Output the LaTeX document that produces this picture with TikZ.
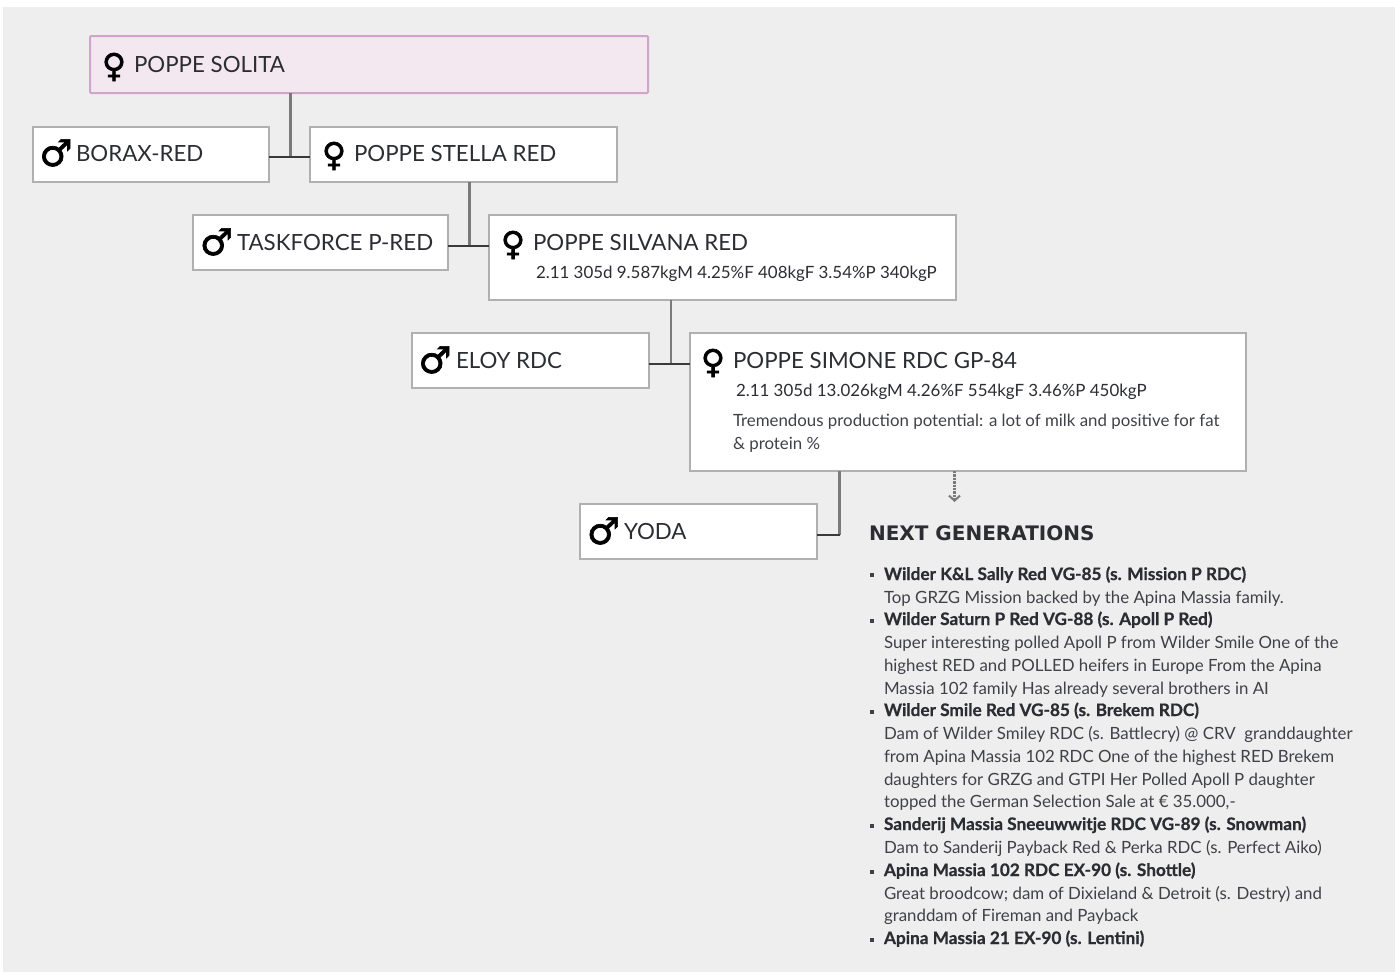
\documentclass[tikz,border=0pt]{standalone}
\usepackage{fontspec}
\usetikzlibrary{arrows.meta}
\setmainfont{Lato}
\newfontfamily\symfont[FakeBold=1.8]{DejaVu Sans}
\newfontfamily\headfont{DejaVu Sans}
\newfontfamily\leadfont[FakeBold=0.7]{Lato Bold}
\definecolor{bgc}{HTML}{EEEEEE}
\definecolor{edgec}{HTML}{B0B0B0}
\definecolor{pinkf}{HTML}{F3E7F0}
\definecolor{pinke}{HTML}{CFA5C9}
\definecolor{vlc}{HTML}{7A7A7A}
\definecolor{hlc}{HTML}{3A3A3A}
\definecolor{txtc}{HTML}{2B2D33}
\definecolor{bodyc}{HTML}{3F4147}
\tikzset{
  x=1pt,y=-1pt,
  every node/.style={inner sep=0pt,outer sep=0pt},
  pedbox/.style={draw=edgec,fill=white,line width=1.6pt,anchor=north west},
  rootbox/.style={draw=pinke,fill=pinkf,line width=2pt,anchor=north west,rounded corners=1pt},
  pedname/.style={anchor=base west,text=txtc,font=\fontsize{22.3}{24}\selectfont},
  stats/.style={anchor=base west,text=txtc,font=\fontsize{16.9}{20}\selectfont},
  body/.style={anchor=base west,text=bodyc,font=\fontsize{16.85}{20}\selectfont},
  lead/.style={anchor=base west,text=txtc,font=\fontsize{17.2}{20}\leadfont\selectfont},
  femsym/.style={anchor=base,text=black,font=\fontsize{33}{33}\symfont\selectfont},
  malesym/.style={anchor=base,text=black,font=\fontsize{37}{37}\symfont\selectfont},
  bull/.style={fill=bodyc,minimum width=3.4pt,minimum height=3.4pt,anchor=center},
  vline/.style={draw=vlc,line width=2.6pt},
  hline/.style={draw=hlc,line width=1.3pt},
}
\begin{document}
\begin{tikzpicture}
\useasboundingbox (0,0) rectangle (1395,972);
\fill[white] (0,0) rectangle (1395,972);
\fill[bgc] (3,7) rectangle (1395,972);
% boxes
\node[rootbox,minimum width=558pt,minimum height=57pt] (solita) at (90,36) {};
\node[pedbox,minimum width=236pt,minimum height=55pt] (borax) at (33,127) {};
\node[pedbox,minimum width=307pt,minimum height=55pt] (stella) at (310,127) {};
\node[pedbox,minimum width=255pt,minimum height=55pt] (taskforce) at (193,215) {};
\node[pedbox,minimum width=467pt,minimum height=85pt] (silvana) at (489,215) {};
\node[pedbox,minimum width=237pt,minimum height=55pt] (eloy) at (412,333) {};
\node[pedbox,minimum width=556pt,minimum height=138pt] (simone) at (690,333) {};
\node[pedbox,minimum width=237pt,minimum height=55pt] (yoda) at (580,504) {};
% junctions
\coordinate (j1) at (290.5,157);
\coordinate (j2) at (469.5,246);
\coordinate (j3) at (671,364);
\coordinate (j4) at (839.5,535);
\coordinate (arrowend) at (954.5,502);
\draw[vline] (solita.south -| j1) -- (j1);
\draw[hline] (borax.east |- j1) -- (stella.west |- j1);
\draw[vline] (stella.south -| j2) -- (j2);
\draw[hline] (taskforce.east |- j2) -- (silvana.west |- j2);
\draw[vline] (silvana.south -| j3) -- (j3);
\draw[hline] (eloy.east |- j3) -- (simone.west |- j3);
\draw[vline] (simone.south -| j4) -- (j4);
\draw[hline] (yoda.east |- j4) -- (j4);
\draw[draw=vlc,line width=2.6pt,dash pattern=on 2.4pt off 1pt,-{Straight Barb[length=5pt,width=11pt,line width=2pt]}] (simone.south -| arrowend) -- (arrowend);
% symbols
\node[femsym] (s1) at (114,77) {♀};
\node[femsym] (s2) at (334,166) {♀};
\node[femsym] (s3) at (513,255) {♀};
\node[femsym] (s4) at (713,373) {♀};
\node[malesym] (s5) at (56,166) {♂};
\node[malesym] (s6) at (216.5,255) {♂};
\node[malesym] (s7) at (435,373) {♂};
\node[malesym] (s8) at (603.5,544) {♂};
% names
\node[pedname] (t1) at (134,72) {POPPE SOLITA};
\node[pedname] (t2) at (354,161) {POPPE STELLA RED};
\node[pedname] (t3) at (533,250) {POPPE SILVANA RED};
\node[pedname] (t4) at (733,368) {POPPE SIMONE RDC GP-84};
\node[pedname] (t5) at (76,161) {BORAX-RED};
\node[pedname] (t6) at (237,250) {TASKFORCE P-RED};
\node[pedname] (t7) at (456,368) {ELOY RDC};
\node[pedname] (t8) at (624,539) {YODA};
\node[stats] (st1) at (536,278) {2.11 305d 9.587kgM 4.25\%F 408kgF 3.54\%P 340kgP};
\node[stats] (st2) at (736,396) {2.11 305d 13.026kgM 4.26\%F 554kgF 3.46\%P 450kgP};
\node[body] (c1) at (733,426) {Tremendous production potential: a lot of milk and positive for fat};
\node[body] (c2) at (733,449) {\& protein \%};
% heading
\node[anchor=base west,text=txtc,font=\fontsize{20}{22}\headfont\bfseries\selectfont] (head) at (869,540) {NEXT GENERATIONS};
% list
\node[bull] (b1) at (872,575) {};
\node[lead] (l1) at (884,580) {Wilder K\&L Sally Red VG-85 (s. Mission P RDC)};
\node[body] (l2) at (884,603) {Top GRZG Mission backed by the Apina Massia family.};
\node[bull] (b2) at (872,621) {};
\node[lead] (l3) at (884,625) {Wilder Saturn P Red VG-88 (s. Apoll P Red)};
\node[body] (l4) at (884,648) {Super interesting polled Apoll P from Wilder Smile One of the};
\node[body] (l5) at (884,671) {highest RED and POLLED heifers in Europe From the Apina};
\node[body] (l6) at (884,694) {Massia 102 family Has already several brothers in AI};
\node[bull] (b3) at (872,712) {};
\node[lead] (l7) at (884,716) {Wilder Smile Red VG-85 (s. Brekem RDC)};
\node[body] (l8) at (884,739) {Dam of Wilder Smiley RDC (s. Battlecry) @ CRV\ \ granddaughter};
\node[body] (l9) at (884,762) {from Apina Massia 102 RDC One of the highest RED Brekem};
\node[body] (l10) at (884,785) {daughters for GRZG and GTPI Her Polled Apoll P daughter};
\node[body] (l11) at (884,807) {topped the German Selection Sale at € 35.000,-};
\node[bull] (b4) at (872,826) {};
\node[lead] (l12) at (884,830) {Sanderij Massia Sneeuwwitje RDC VG-89 (s. Snowman)};
\node[body] (l13) at (884,853) {Dam to Sanderij Payback Red \& Perka RDC (s. Perfect Aiko)};
\node[bull] (b5) at (872,872) {};
\node[lead] (l14) at (884,876) {Apina Massia 102 RDC EX-90 (s. Shottle)};
\node[body] (l15) at (884,899) {Great broodcow; dam of Dixieland \& Detroit (s. Destry) and};
\node[body] (l16) at (884,921) {granddam of Fireman and Payback};
\node[bull] (b6) at (872,940) {};
\node[lead] (l17) at (884,944) {Apina Massia 21 EX-90 (s. Lentini)};
\end{tikzpicture}
\end{document}
